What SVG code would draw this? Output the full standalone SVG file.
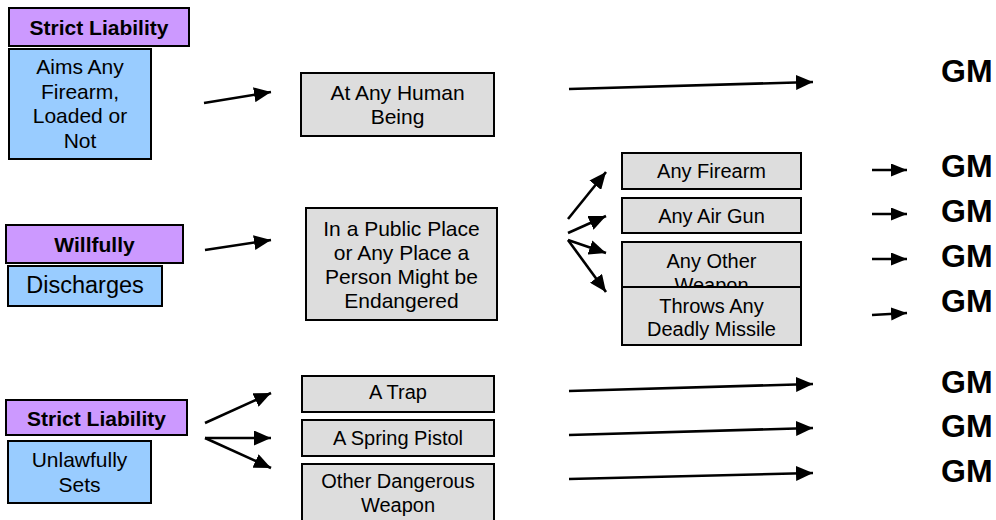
<svg xmlns="http://www.w3.org/2000/svg" width="996" height="520" viewBox="0 0 996 520">
  <style>
    .mode { fill: #CC99FF; stroke: #000; stroke-width: 2; }
    .act { fill: #99CCFF; stroke: #000; stroke-width: 2; }
    .elem { fill: #DDDDDD; stroke: #000; stroke-width: 2; }
    text { font-family: "Liberation Sans", Arial, sans-serif; fill: #000; text-anchor: middle; }
    .bold { font-weight: bold; font-size: 21px; }
    .t21 { font-size: 21px; }
    .t20 { font-size: 20px; }
    .gm { font-weight: bold; font-size: 32px; text-anchor: start; }
    .conn { stroke: #000; stroke-width: 2.6; fill: none; marker-end: url(#head); }
    .conn-s { stroke: #000; stroke-width: 2.6; fill: none; marker-end: url(#head-s); }
  </style>
  <defs>
    <marker id="head" markerUnits="userSpaceOnUse" markerWidth="18" markerHeight="15" refX="17" refY="7.5" orient="auto">
      <path d="M0,0 L17,7.5 L0,15 z" fill="#000"/>
    </marker>
    <marker id="head-s" markerUnits="userSpaceOnUse" markerWidth="17" markerHeight="14" refX="16" refY="6.5" orient="auto">
      <path d="M0,0 L16,6.5 L0,13 z" fill="#000"/>
    </marker>
  </defs>

  <rect width="996" height="520" fill="#fff"/>

  <!-- Row 1: aiming -->
  <g id="mode-strict-1">
    <rect class="mode" x="9" y="8" width="180" height="38"/>
    <text class="bold" x="99" y="35">Strict Liability</text>
  </g>
  <g id="act-aims">
    <rect class="act" x="9" y="49" width="142" height="110"/>
    <text class="t21" x="80" y="74">Aims Any</text>
    <text class="t21" x="80" y="98.5">Firearm,</text>
    <text class="t21" x="80" y="123">Loaded or</text>
    <text class="t21" x="80" y="147.5">Not</text>
  </g>
  <g id="elem-human">
    <rect class="elem" x="301" y="73" width="193" height="63"/>
    <text class="t21" x="397.5" y="100">At Any Human</text>
    <text class="t21" x="397.5" y="124">Being</text>
  </g>

  <!-- Row 2: discharging -->
  <g id="mode-willful">
    <rect class="mode" x="6" y="225" width="177" height="38"/>
    <text class="bold" x="94.5" y="252">Willfully</text>
  </g>
  <g id="act-discharges">
    <rect class="act" x="8" y="266" width="154" height="40"/>
    <text x="85" y="293" style="font-size:23.5px">Discharges</text>
  </g>
  <g id="elem-place">
    <rect class="elem" x="306" y="208" width="191" height="112"/>
    <text class="t21" x="401.5" y="236">In a Public Place</text>
    <text class="t21" x="401.5" y="260">or Any Place a</text>
    <text class="t21" x="401.5" y="284">Person Might be</text>
    <text class="t21" x="401.5" y="308">Endangered</text>
  </g>
  <g id="elem-firearm">
    <rect class="elem" x="622" y="153" width="179" height="36"/>
    <text class="t20" x="711.5" y="178">Any Firearm</text>
  </g>
  <g id="elem-airgun">
    <rect class="elem" x="622" y="198" width="179" height="35"/>
    <text class="t20" x="711.5" y="223">Any Air Gun</text>
  </g>
  <g id="elem-other-weapon">
    <rect class="elem" x="622" y="242" width="179" height="54"/>
    <text class="t20" x="711.5" y="268">Any Other</text>
    <text class="t20" x="711.5" y="292">Weapon</text>
  </g>
  <g id="elem-missile">
    <rect class="elem" x="622" y="287" width="179" height="58"/>
    <text class="t20" x="711.5" y="313">Throws Any</text>
    <text class="t20" x="711.5" y="336">Deadly Missile</text>
  </g>

  <!-- Row 3: setting -->
  <g id="mode-strict-2">
    <rect class="mode" x="6" y="400" width="181" height="35"/>
    <text class="bold" x="96.5" y="426">Strict Liability</text>
  </g>
  <g id="act-sets">
    <rect class="act" x="8" y="441" width="143" height="62"/>
    <text class="t21" x="79.5" y="467">Unlawfully</text>
    <text class="t21" x="79.5" y="492">Sets</text>
  </g>
  <g id="elem-trap">
    <rect class="elem" x="302" y="376" width="192" height="36"/>
    <text class="t20" x="398" y="399">A Trap</text>
  </g>
  <g id="elem-spring">
    <rect class="elem" x="302" y="420" width="192" height="36"/>
    <text class="t20" x="398" y="445">A Spring Pistol</text>
  </g>
  <g id="elem-dangerous">
    <rect class="elem" x="302" y="464" width="192" height="60"/>
    <text class="t20" x="398" y="488">Other Dangerous</text>
    <text class="t20" x="398" y="512">Weapon</text>
  </g>

  <!-- Grades -->
  <g id="grades">
    <text class="gm" x="941" y="82">GM</text>
    <text class="gm" x="941" y="177">GM</text>
    <text class="gm" x="941" y="222">GM</text>
    <text class="gm" x="941" y="267">GM</text>
    <text class="gm" x="941" y="312">GM</text>
    <text class="gm" x="941" y="393">GM</text>
    <text class="gm" x="941" y="437">GM</text>
    <text class="gm" x="941" y="482">GM</text>
  </g>

  <!-- Connectors -->
  <g id="connectors">
    <line class="conn" x1="204" y1="103" x2="271" y2="92"/>
    <line class="conn" x1="569" y1="89" x2="813" y2="82"/>

    <line class="conn" x1="205" y1="250" x2="271" y2="240"/>
    <line class="conn" x1="568" y1="219" x2="606" y2="172"/>
    <line class="conn" x1="568" y1="233" x2="606" y2="216"/>
    <line class="conn" x1="568" y1="240" x2="606" y2="253"/>
    <line class="conn" x1="568" y1="240" x2="606" y2="292"/>
    <line class="conn-s" x1="872" y1="170" x2="907" y2="170"/>
    <line class="conn-s" x1="872" y1="214" x2="907" y2="214"/>
    <line class="conn-s" x1="872" y1="259" x2="907" y2="259"/>
    <line class="conn-s" x1="872" y1="315" x2="907" y2="313"/>

    <line class="conn" x1="205" y1="423" x2="271" y2="393"/>
    <line class="conn" x1="205" y1="438" x2="271" y2="438"/>
    <line class="conn" x1="205" y1="438" x2="271" y2="468"/>
    <line class="conn" x1="569" y1="391" x2="813" y2="384"/>
    <line class="conn" x1="569" y1="435" x2="813" y2="428"/>
    <line class="conn" x1="569" y1="479" x2="813" y2="473"/>
  </g>
</svg>
